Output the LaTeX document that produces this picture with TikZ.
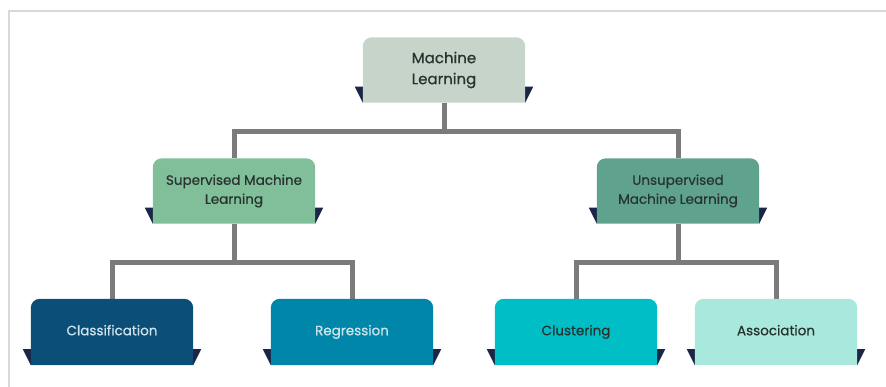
\documentclass[tikz,border=0pt]{standalone}
\usepackage{fontspec}
\setmainfont{Poppins}[FakeBold=0.6]
\usetikzlibrary{backgrounds}

\definecolor{mlgrey}{HTML}{C6D4C9}
\definecolor{supgreen}{HTML}{80BF99}
\definecolor{unsupgreen}{HTML}{5FA38F}
\definecolor{classblue}{HTML}{0B4F78}
\definecolor{regblue}{HTML}{0086A9}
\definecolor{clustcyan}{HTML}{00BEC6}
\definecolor{assocmint}{HTML}{A8E8DD}
\definecolor{tabnavy}{HTML}{1B2547}
\definecolor{linkgrey}{HTML}{7B7B7B}
\definecolor{darktext}{HTML}{28332F}
\definecolor{lighttext}{HTML}{CFE3EC}

\tikzset{
    mlbox/.style={minimum width=162pt, minimum height=65pt, inner sep=0pt,
        align=center, text=darktext, font=\fontsize{13.5}{19}\selectfont},
    leafbox/.style={mlbox, minimum height=66pt, text height=10pt, text depth=3.5pt},
    link/.style={draw=linkgrey, line width=5pt}
}

% ribbon box behind a node: rounded top, folded tabs at the bottom
\newcommand{\ribbon}[2]{%
    \fill[tabnavy] ([xshift=-8pt,yshift=16pt]#1.south west) -- ([yshift=16pt]#1.south west) -- (#1.south west) -- cycle;
    \fill[tabnavy] ([xshift=8pt,yshift=16pt]#1.south east) -- ([yshift=16pt]#1.south east) -- (#1.south east) -- cycle;
    \fill[#2] (#1.south west) [rounded corners=9pt] -- (#1.north west) -- (#1.north east) [sharp corners] -- (#1.south east) -- cycle;
}

\begin{document}
\begin{tikzpicture}[x=1pt,y=-1pt]
            \useasboundingbox (0,0) rectangle (886,387);
            \draw[gray!30, line width=1.5pt] (9,387) -- (9,11) -- (886,11);

            \node[mlbox, font=\fontsize{15}{21}\selectfont] (ml) at (444,70) {Machine\\Learning};

            \node[mlbox] (sup)     at (234,191)  {Supervised Machine\\Learning};
            \node[mlbox] (unsup)   at (678,191)  {Unsupervised\\Machine Learning};

            \node[leafbox, text=lighttext] (class) at (112,332) {Classification};
            \node[leafbox, text=lighttext] (reg)   at (352,332) {Regression};
            \node[leafbox] (clust)   at (576,332) {Clustering};
            \node[leafbox] (assoc)   at (776,332) {Association};

            \begin{scope}[on background layer]
                \draw[link] (ml.south) -- ++(0,29) -| (sup.north);
                \draw[link] (ml.south) -- ++(0,29) -| (unsup.north);
                \draw[link] (sup.south) -- ++(0,39) -| (class.north);
                \draw[link] (sup.south) -- ++(0,39) -| (reg.north);
                \draw[link] (unsup.south) -- ++(0,39) -| (clust.north);
                \draw[link] (unsup.south) -- ++(0,39) -| (assoc.north);

                \ribbon{ml}{mlgrey}
                \ribbon{sup}{supgreen}
                \ribbon{unsup}{unsupgreen}
                \ribbon{class}{classblue}
                \ribbon{reg}{regblue}
                \ribbon{clust}{clustcyan}
                \ribbon{assoc}{assocmint}
            \end{scope}
        \end{tikzpicture}
\end{document}
